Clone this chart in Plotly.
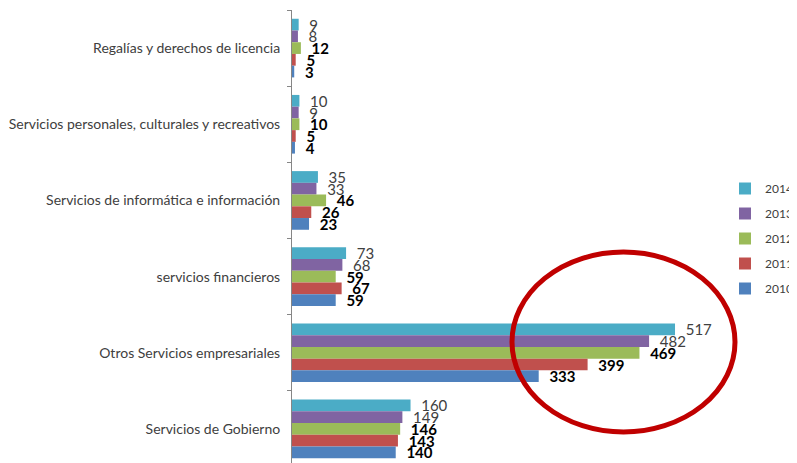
import plotly.graph_objects as go

categories = [
    "Regalías y derechos de licencia",
    "Servicios personales, culturales y recreativos",
    "Servicios de informática e información",
    "servicios financieros",
    "Otros Servicios empresariales",
    "Servicios de Gobierno",
]
years = ["2014", "2013", "2012", "2011", "2010"]
values_2014 = [9, 10, 35, 73, 517, 160]
values_2013 = [8, 9, 33, 68, 482, 149]
values_2012 = [12, 10, 46, 59, 469, 146]
values_2011 = [5, 5, 26, 67, 399, 143]
values_2010 = [3, 4, 23, 59, 333, 140]
series = [values_2014, values_2013, values_2012, values_2011, values_2010]
colors = ["#4BACC6", "#8064A2", "#9BBB59", "#C0504D", "#4F81BD"]
bold_label = [False, False, True, True, True]

FONT = "Lato"

fig = go.Figure()
for yr, vals, col, bold in zip(years, series, colors, bold_label):
    if bold:
        tt = "\u00a0\u00a0<b>%{x}</b>"
        tf = dict(family=FONT, size=15, color="#000000")
    else:
        tt = "\u00a0\u00a0%{x}"
        tf = dict(family=FONT, size=15, color="#404040")
    fig.add_trace(go.Bar(
        y=categories, x=vals, name=yr, orientation="h",
        marker=dict(color=col, line=dict(width=0)),
        texttemplate=tt, textposition="outside", textfont=tf,
        constraintext="none", cliponaxis=False,
        legendgroup=yr,
    ))

# page body has an 8px margin; figure is sized to end at the window edge
OFF = 8
W, H = 797 - OFF, 463 - OFF
plot_left, plot_right, top = 292 - OFF, 760 - OFF, 10 - OFF
pw, ph = plot_right - plot_left, H - top


def px_x(x):
    return (x - OFF - plot_left) / pw


def px_y(y):
    return (H - (y - OFF)) / ph


fig.update_layout(
    width=W, height=H,
    margin=dict(l=plot_left, r=W - plot_right, t=top, b=0, autoexpand=False),
    paper_bgcolor="white", plot_bgcolor="white",
    barmode="group", bargap=0.23, bargroupgap=0,
    font=dict(family=FONT, color="#404040"),
    xaxis=dict(range=[0, 631.7], visible=False, showgrid=False, zeroline=False),
    yaxis=dict(
        range=[5.447, -0.5], showline=True, linecolor="#868686", linewidth=1,
        ticks="outside", ticklen=4, tickcolor="#868686", tickson="boundaries",
        showgrid=False, zeroline=False,
        tickfont=dict(family=FONT, size=14, color="#404040"),
        ticklabelstandoff=8,
    ),
    legend=dict(
        x=px_x(725), xanchor="left", y=px_y(238.5), yanchor="middle",
        traceorder="grouped", tracegroupgap=6,
        font=dict(family=FONT, size=12, color="#404040"),
        bgcolor="rgba(0,0,0,0)",
    ),
    showlegend=True,
    shapes=[dict(
        type="circle", xref="paper", yref="paper",
        x0=px_x(512), x1=px_x(735),
        y0=px_y(432), y1=px_y(252),
        line=dict(color="#C00000", width=5), layer="above",
    )],
)

fig.write_html("out.html")
